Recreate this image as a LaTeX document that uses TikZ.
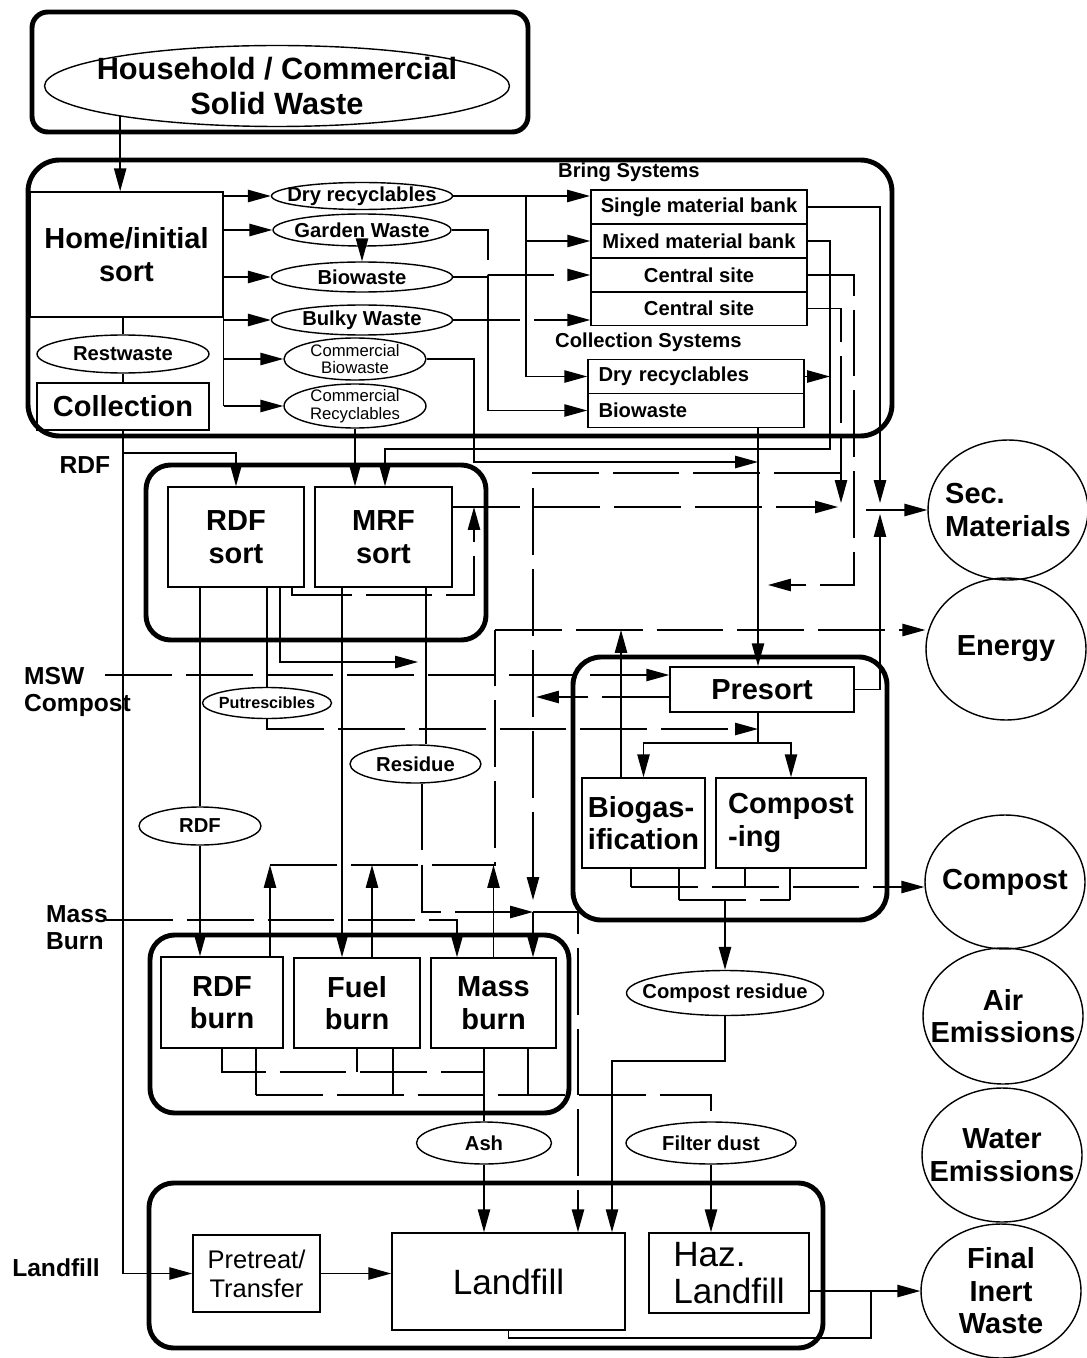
\documentclass[tikz,border=0pt]{standalone}
\usepackage{fontspec}
\setmainfont{Liberation Sans}
\usetikzlibrary{shapes.geometric,arrows.meta}

\newcommand\hhf{\fontsize{17.5}{19.5}\selectfont\bfseries}
\newcommand\bigf{\fontsize{16.5}{18.5}\selectfont\bfseries}
\newcommand\lbf{\fontsize{14}{15.5}\selectfont\bfseries}
\newcommand\smf{\fontsize{11.5}{13}\selectfont\bfseries}
\newcommand\tnf{\fontsize{9.5}{10}\selectfont}
\newcommand\ptf{\fontsize{9.2}{10}\selectfont\bfseries}
\newcommand\lff{\fontsize{20}{21}\selectfont}
\newcommand\prf{\fontsize{14.5}{16.5}\selectfont}

\tikzset{
  grp/.style={line width=2.8pt},
  box/.style={draw, line width=0.9pt, inner sep=1pt},
  cell/.style={box, font=\smf, minimum width=4.32cm, minimum height=0.68cm, inner xsep=0.2cm, inner ysep=0pt},
  oval/.style={draw, ellipse, line width=0.8pt, inner sep=0pt},
  outc/.style={draw, ellipse, line width=0.8pt, inner sep=0pt, minimum width=3.2cm},
  flow/.style={line width=0.8pt},
  gap/.style={flow, dash pattern=on 38pt off 8pt},
  arr/.style={-{Triangle[length=13pt,width=7pt]}}
}

\begin{document}
\begin{tikzpicture}[x=0.02cm,y=-0.02cm]
\useasboundingbox[fill=white] (0,0) rectangle (1087,1358);

% source
\draw[grp, rounded corners=9pt] (32,12) rectangle (528,132);
\node[oval, minimum width=9.3cm, minimum height=1.62cm,
  label={[font=\hhf, align=center]center:Household / Commercial\\Solid Waste}] (hh) at (277,86) {};

% collection stage
\draw[grp, rounded corners=18pt] (28,160) rectangle (892,436);
\node[box, font=\bigf, align=center, minimum width=3.86cm, minimum height=2.5cm] (home) at (126.5,254.5) {Home/initial\\sort};
\node[oval, minimum width=3.44cm, minimum height=0.76cm, label={[font=\smf]center:Restwaste}] (rest) at (123,354) {};
\node[box, font=\bigf, minimum width=3.44cm, minimum height=0.94cm] (coll) at (123,406.5) {Collection};

\node[oval, minimum width=3.62cm, minimum height=0.54cm, label={[font=\smf]center:Dry recyclables}] (dry) at (362,196) {};
\node[oval, minimum width=3.56cm, minimum height=0.64cm, label={[font=\smf]center:Garden Waste}] (garden) at (362,230) {};
\node[oval, minimum width=3.62cm, minimum height=0.6cm, label={[font=\smf]center:Biowaste}] (bio) at (362,277) {};
\node[oval, minimum width=3.62cm, minimum height=0.6cm, label={[font=\smf]center:Bulky Waste}] (bulky) at (362,320) {};
\node[oval, minimum width=2.84cm, minimum height=0.84cm, label={[font=\tnf, align=center]center:Commercial\\Biowaste}] (cbio) at (355,359) {};
\node[oval, minimum width=2.84cm, minimum height=0.88cm, label={[font=\tnf, align=center]center:Commercial\\Recyclables}] (crec) at (355,406) {};

\node[font=\smf, anchor=west] (bring) at (552,172) {Bring Systems};
\node[cell] (smb) at (699,207) {Single material bank};
\node[cell] (mmb) at (699,241) {Mixed material bank};
\node[cell] (cs1) at (699,275) {Central site};
\node[cell] (cs2) at (699,308.5) {Central site};
\node[font=\smf, anchor=west] (colsys) at (549,342) {Collection Systems};
\node[cell, text width=3.9cm, align=left] (cdry) at (696,376.5) {Dry recyclables};
\node[cell, text width=3.9cm, align=left] (cbw) at (696,410.5) {Biowaste};

% sorting stage
\draw[grp, rounded corners=14pt] (146,465) rectangle (486,640);
\node[box, font=\bigf, align=center, minimum width=2.72cm, minimum height=2cm] (rdfs) at (236,537) {RDF\\sort};
\node[box, font=\bigf, align=center, minimum width=2.74cm, minimum height=2cm] (mrfs) at (383.5,537) {MRF\\sort};

% biological stage
\draw[grp, rounded corners=16pt] (573,657) rectangle (887,920);
\node[box, font=\bigf, minimum width=3.68cm, minimum height=0.9cm] (presort) at (762,689.5) {Presort};
\node[box, font=\bigf, align=left, minimum width=2.46cm, minimum height=1.8cm] (biogas) at (643.5,823) {Biogas-\\ification};
\node[box, font=\bigf, align=left, minimum width=3cm, minimum height=1.8cm] (compst) at (791,823) {Compost\\-ing};

% thermal stage
\draw[grp, rounded corners=14pt] (150,935) rectangle (569,1113);
\node[box, font=\bigf, align=center, minimum width=2.44cm, minimum height=1.82cm] (rdfb) at (222,1002.5) {RDF\\burn};
\node[box, font=\bigf, align=center, minimum width=2.52cm, minimum height=1.8cm] (fuelb) at (357,1003) {Fuel\\burn};
\node[box, font=\bigf, align=center, minimum width=2.5cm, minimum height=1.8cm] (massb) at (493.5,1003) {Mass\\burn};

% landfill stage
\draw[grp, rounded corners=14pt] (149,1183) rectangle (823,1348);
\node[box, font=\prf, align=center, minimum width=2.54cm, minimum height=1.54cm] (pret) at (256.5,1273.5) {Pretreat/\\Transfer};
\node[box, font=\lff, minimum width=4.66cm, minimum height=1.94cm] (lfill) at (508.5,1281.5) {Landfill};
\node[box, font=\lff, align=left, minimum width=3.2cm, minimum height=1.6cm] (haz) at (729,1273) {Haz.\\Landfill};

% intermediate streams
\node[oval, minimum width=2.58cm, minimum height=0.62cm, label={[font=\ptf]center:Putrescibles}] (putr) at (267,703) {};
\node[oval, minimum width=2.62cm, minimum height=0.76cm, label={[font=\smf]center:Residue}] (resid) at (415.5,764) {};
\node[oval, minimum width=2.44cm, minimum height=0.76cm, label={[font=\smf]center:RDF}] (rdfe) at (200,826) {};
\node[oval, minimum width=3.94cm, minimum height=0.9cm, label={[font=\smf]center:Compost residue}] (cres) at (725,993) {};
\node[oval, minimum width=2.7cm, minimum height=0.84cm, label={[font=\smf]center:Ash}] (ash) at (484,1143) {};
\node[oval, minimum width=3.4cm, minimum height=0.84cm, label={[font=\smf]center:Filter dust}] (fdust) at (711,1143) {};

% outputs
\node[outc, minimum height=2.8cm, label={[font=\bigf, align=left]center:Sec.\\Materials}] (secm) at (1008,510) {};
\node[outc, minimum height=2.84cm, label={[font=\bigf]center:Energy}] (energy) at (1006,649) {};
\node[outc, minimum height=2.68cm, label={[font=\bigf]center:Compost}] (compc) at (1005,882) {};
\node[outc, minimum height=2.72cm, label={[font=\bigf, align=center]center:Air\\Emissions}] (airc) at (1003,1016) {};
\node[outc, minimum height=2.68cm, label={[font=\bigf, align=center]center:Water\\Emissions}] (water) at (1002,1155) {};
\node[outc, minimum height=2.68cm, label={[font=\bigf, align=center]center:Final\\Inert\\Waste}] (finw) at (1001,1291) {};

% route labels
\node[font=\lbf] (lrdf) at (85,465) {RDF};
\node[font=\lbf, align=left, anchor=west] (lmsw) at (18,692) {MSW\\Compost};
\node[font=\lbf, align=left, anchor=west] (lmass) at (40,928) {Mass\\Burn};
\node[font=\lbf] (lland) at (56,1268) {Landfill};

% helper points
\coordinate (cA) at (526,0);
\coordinate (cB) at (488,0);
\coordinate (cC) at (474,462);
\coordinate (cD) at (758,0);
\coordinate (cE) at (830,449);
\coordinate (mA) at (385,0);
\coordinate (rA) at (0,453);
\coordinate (cF) at (880,503);
\coordinate (cFu) at (880,514);
\coordinate (cG) at (854,585);
\coordinate (cGt) at (768,585);
\coordinate (cH) at (841,503);
\coordinate (cI) at (533,473);
\coordinate (cIt) at (533,900);
\coordinate (sA) at (838,507);
\coordinate (eA) at (495,630);
\coordinate (gA) at (621,630);
\coordinate (kA) at (270,865);
\coordinate (kB) at (372,865);
\coordinate (bR) at (495,865);
\coordinate (mC) at (105,675);
\coordinate (pA) at (536,697);
\coordinate (pB) at (758,743);
\coordinate (uA) at (0,729);
\coordinate (vA) at (280,662);
\coordinate (vB) at (418,662);
\coordinate (wA) at (292,595);
\coordinate (wB) at (474,595);
\coordinate (fA) at (342,0);
\coordinate (rB) at (426,0);
\coordinate (xA) at (422,912);
\coordinate (xB) at (533,912);
\coordinate (xC) at (578,912);
\coordinate (yA) at (106,920);
\coordinate (yB) at (457,920);
\coordinate (zA) at (0,1072);
\coordinate (zB) at (0,1095);
\coordinate (zC) at (256,1095);
\coordinate (zD) at (393,1095);
\coordinate (zE) at (528,1095);
\coordinate (qA) at (631,887);
\coordinate (qB) at (745,887);
\coordinate (qC) at (679,900);
\coordinate (qD) at (790,900);
\coordinate (rC) at (612,1061);
\coordinate (tB) at (871,1338);

% collection connectors
\draw[flow,arr] (hh.191) -- (hh.191 |- home.north);
\draw[flow] (home.north east) -- (home.east |- crec.west);
\foreach \n in {dry,garden,bio,bulky,cbio,crec}
  \draw[flow,arr] (home.east |- \n.west) -- (\n.west);
\draw[flow] (rest.north |- home.south) -- (rest.north);
\draw[flow] (rest.south) -- (coll.north);
\draw[flow,arr] (garden.south) -- (bio.north);
\draw[flow,arr] (dry.east) -- (dry.east -| smb.west);
\draw[flow] (dry.east -| cA) -- (cdry.west -| cA);
\draw[flow,arr] (mmb.west -| cA) -- (mmb.west);
\draw[flow,arr] (cdry.west -| cA) -- (cdry.west);
\draw[gap,arr] (garden.east) -| (cB |- cs1.west) -- (cs1.west);
\draw[flow,arr] (bio.east) -| (cB |- cbw.west) -- (cbw.west);
\draw[gap,arr] (bulky.east) -- (bulky.east -| cs2.west);

% bring / collection outputs
\draw[flow,arr] (cbio.east) -| (cC) -- (cC -| cD);
\draw[flow,arr] (crec.south) -- (crec.south |- mrfs.north);
\draw[flow,arr] (cD |- cbw.south) -- (cD |- presort.north);
\draw[flow,arr] (coll.south) -- (coll.south |- pret.west) -- (pret.west);
\draw[flow,arr] (coll.south |- rA) -| (rdfs.north);
\draw[flow,arr] (mmb.east) -| (cE) -| (mA |- mrfs.north);
\draw[flow,arr] (cdry.east) -- (cdry.east -| cE);
\draw[flow,arr] (smb.east) -| (cF);
\draw[gap,arr] (cs1.east) -| (cG) -- (cGt);
\draw[gap,arr] (cs2.east) -| (cH);
\draw[gap,arr] (cH |- cI) -- (cI) -- (cIt);

% secondary materials and energy
\draw[gap,arr] (mrfs.east |- sA) -- (sA);
\draw[flow,arr] ([xshift=-0.28cm]cF |- secm.west) -- (secm.west);
\draw[flow,arr] (presort.east) -| (cFu);
\draw[gap,arr] (eA) -- (energy.west |- eA);
\draw[flow,arr] (gA |- biogas.north) -- (gA);
\draw[flow,arr] (kA |- rdfb.north) -- (kA);
\draw[flow,arr] (kB |- fuelb.north) -- (kB);
\draw[flow,arr] (massb.north) -- (massb.north |- bR);
\draw[gap] (kA) -- (bR) -- (eA);

% sorting outputs
\draw[gap,arr] (mC) -- (mC -| presort.west);
\draw[gap,arr] (pA -| presort.west) -- (pA);
\draw[flow] (cD |- presort.south) -- (pB);
\draw[flow,arr] (pB) -| (biogas.north);
\draw[flow,arr] (pB) -| (compst.north);
\draw[flow] (putr.north |- rdfs.south) -- (putr.north);
\draw[gap,arr] (putr.south) |- (cD |- uA);
\draw[flow,arr] (vA |- rdfs.south) -- (vA) -- (vB);
\draw[gap,arr] (wA |- rdfs.south) -- (wA) -- (wB) -- (wB |- sA);
\draw[flow] (rdfe.north |- rdfs.south) -- (rdfe.north);
\draw[flow,arr] (rdfe.south) -- (rdfe.south |- rdfb.north);
\draw[flow,arr] (fA |- mrfs.south) -- (fA |- fuelb.north);
\draw[flow] (rB |- mrfs.south) -- (rB |- resid.north);
\draw[gap,arr] (xA |- resid.south) -- (xA) -- (xB);
\draw[flow,arr] (xB) -- (xB |- massb.north);
\draw[gap,arr] (xB) -- (xC) -- (xC |- lfill.north);
\draw[gap,arr] (yA) -- (yB) -- (yB |- massb.north);

% thermal outputs
\draw[gap] (rdfb.south) |- (ash.north |- zA);
\draw[flow] (fuelb.south) -- (fuelb.south |- zA);
\draw[flow] (ash.north |- massb.south) -- (ash.north);
\draw[flow] (zC |- rdfb.south) -- (zC);
\draw[flow] (zD |- fuelb.south) -- (zD);
\draw[flow] (zE |- massb.south) -- (zE);
\draw[gap] (zC) -- (fdust.north |- zB) -- (fdust.north);
\draw[flow,arr] (ash.south) -- (ash.south |- lfill.north);
\draw[flow,arr] (fdust.south) -- (fdust.south |- haz.north);

% biological outputs
\draw[flow] (qA |- biogas.south) -- (qA);
\draw[flow] (qB |- compst.south) -- (qB);
\draw[gap,arr] (qA) -- (compc.west |- qA);
\draw[flow] (qC |- biogas.south) -- (qC);
\draw[flow] (qD |- compst.south) -- (qD);
\draw[gap] (qC) -- (qD);
\draw[flow,arr] (cres.north |- qC) -- (cres.north);
\draw[flow,arr] (cres.south) |- (rC) -- (rC |- lfill.north);

% landfill outputs
\draw[flow,arr] (pret.east) -- (pret.east -| lfill.west);
\draw[flow,arr] (haz.east |- finw.west) -- (finw.west);
\draw[flow] (lfill.south) |- (tB) -- (tB |- finw.west);
\end{tikzpicture}
\end{document}
